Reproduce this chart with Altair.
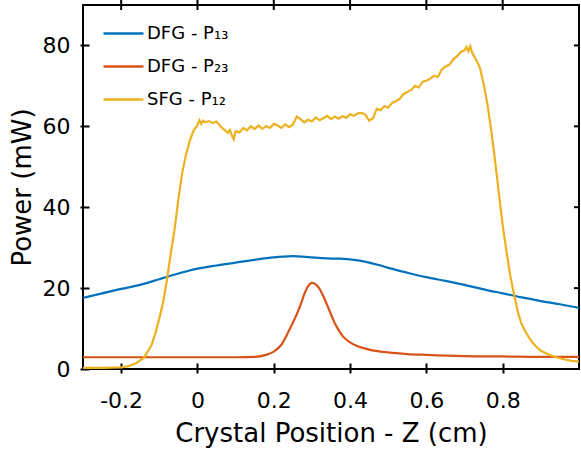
import altair as alt
import pandas as pd

# ---- data ----
dfg13_x = [-0.30, -0.25, -0.20, -0.15, -0.10, -0.05, 0.00, 0.05, 0.10, 0.15, 0.20, 0.225, 0.25,
           0.275, 0.30, 0.325, 0.35, 0.375, 0.40, 0.425, 0.45, 0.475, 0.50, 0.55, 0.60, 0.65,
           0.70, 0.75, 0.80, 0.85, 0.90, 0.95, 1.00]
dfg13_y = [17.6, 18.7, 19.8, 20.8, 22.2, 23.6, 24.8, 25.6, 26.3, 27.0, 27.6, 27.8, 27.9,
           27.8, 27.6, 27.4, 27.3, 27.3, 27.1, 26.8, 26.3, 25.7, 25.0, 23.8, 22.7, 21.8,
           20.8, 19.7, 18.7, 17.7, 16.8, 16.0, 15.1]

dfg23_x = [-0.30, -0.20, -0.10, 0.00, 0.10, 0.15, 0.18, 0.20, 0.22, 0.24, 0.26, 0.27, 0.28,
           0.29, 0.30, 0.31, 0.32, 0.33, 0.34, 0.35, 0.36, 0.37, 0.38, 0.40, 0.42, 0.45,
           0.50, 0.55, 0.60, 0.70, 0.80, 0.90, 1.00]
dfg23_y = [2.9, 2.9, 2.9, 2.9, 2.9, 3.0, 3.5, 4.3, 6.0, 9.5, 13.5, 15.8, 18.5,
           20.5, 21.3, 20.9, 19.8, 18.0, 15.8, 13.5, 11.3, 9.6, 8.2, 6.6, 5.6, 4.8,
           4.1, 3.7, 3.5, 3.2, 3.1, 3.0, 3.0]

sfg12_x = [-0.30, -0.25, -0.20, -0.18, -0.16, -0.14, -0.12, -0.11, -0.10, -0.09, -0.08,
           -0.07, -0.06, -0.05, -0.04, -0.03, -0.02, -0.01, 0.00, 0.005, 0.01, 0.015,
           0.02, 0.03, 0.04, 0.05, 0.06, 0.07, 0.08, 0.085, 0.09, 0.095, 0.10, 0.11,
           0.12, 0.13, 0.14, 0.15, 0.16, 0.17, 0.18, 0.19, 0.20, 0.21, 0.22, 0.23, 0.24,
           0.25, 0.26, 0.27, 0.28, 0.29, 0.30, 0.31, 0.32, 0.33, 0.34, 0.35, 0.36, 0.37,
           0.38, 0.39, 0.40, 0.41, 0.42, 0.43, 0.44, 0.45, 0.46, 0.47, 0.48, 0.49, 0.50,
           0.51, 0.52, 0.53, 0.54, 0.55, 0.56, 0.57, 0.58, 0.59, 0.60, 0.61, 0.62, 0.63,
           0.64, 0.65, 0.66, 0.67, 0.68, 0.69, 0.70, 0.705, 0.71, 0.715, 0.72, 0.73, 0.74,
           0.75, 0.76, 0.77, 0.78, 0.79, 0.80, 0.81, 0.82, 0.83, 0.84, 0.85, 0.86, 0.87,
           0.88, 0.89, 0.90, 0.92, 0.94, 0.96, 0.98, 1.00]
sfg12_y = [0.3, 0.3, 0.4, 0.7, 1.5, 2.8, 6.0, 9.0, 12.5, 16.5, 22.0,
           28.5, 34.5, 42.0, 48.5, 53.0, 56.5, 59.0, 60.3, 61.5, 60.6, 61.4,
           61.0, 61.3, 60.8, 61.2, 60.0, 59.2, 58.4, 59.1, 57.8, 56.8, 58.8, 58.5,
           59.6, 59.0, 60.0, 59.3, 60.2, 59.4, 60.1, 59.6, 60.6, 60.2, 59.6, 60.5, 59.8,
           60.4, 62.4, 61.8, 61.0, 61.6, 61.2, 62.2, 61.5, 62.0, 62.6, 61.8, 62.4, 61.9,
           62.5, 62.1, 63.0, 62.6, 63.2, 63.3, 62.9, 61.4, 62.0, 64.3, 64.0, 65.0, 64.6,
           65.8, 66.2, 66.8, 68.0, 68.5, 69.0, 70.0, 69.6, 71.0, 71.3, 71.8, 72.5, 72.2,
           74.0, 74.8, 75.2, 76.5, 77.3, 78.4, 78.8, 79.6, 78.6, 79.8, 78.2, 76.5, 74.6,
           70.5, 65.5, 59.0, 51.5, 43.5, 35.5, 29.0, 23.0, 18.3, 14.0, 11.0, 9.2, 7.6,
           6.3, 5.3, 4.5, 3.6, 2.9, 2.4, 2.0, 1.8]

series_names = ["DFG - P\u2081\u2083", "DFG - P\u2082\u2083", "SFG - P\u2081\u2082"]
series_colors = ["#0072BD", "#D95319", "#EDB120"]
x_ticks = [-0.2, 0, 0.2, 0.4, 0.6, 0.8]
y_ticks = [0, 20, 40, 60, 80]

def make_df(name, xs, ys):
    return pd.DataFrame({"series": name, "z": xs, "p": ys, "order": range(len(xs))})

df_smooth = pd.concat([make_df(series_names[0], dfg13_x, dfg13_y),
                       make_df(series_names[1], dfg23_x, dfg23_y)], ignore_index=True)
df_sfg = make_df(series_names[2], sfg12_x, sfg12_y)
df_xt = pd.DataFrame({"z": x_ticks})
df_yt = pd.DataFrame({"p": y_ticks})

FONT = "DejaVu Sans"
W, H = 496, 364
xscale = alt.Scale(domain=[-0.3, 1.0], nice=False, zero=False)
yscale = alt.Scale(domain=[0, 90], nice=False, zero=False)
label_expr = "datum.value == 0 ? '0' : replace(format(datum.value, '.1f'), '\u2212', '-')"

x_main = alt.X("z:Q", scale=xscale,
               axis=alt.Axis(orient="bottom", values=x_ticks, labelExpr=label_expr,
                             offset=-6, tickSize=10, tickWidth=2, tickColor="black",
                             domain=False, grid=False, labelFont=FONT, labelFontSize=22,
                             labelColor="black", labelPadding=17,
                             title="Crystal Position - Z (cm)", titleFont=FONT,
                             titleFontSize=26, titleFontWeight="normal", titleColor="black",
                             titleBaseline="alphabetic", titleY=78))
y_main = alt.Y("p:Q", scale=yscale,
               axis=alt.Axis(orient="left", values=y_ticks, offset=-6, tickSize=9,
                             tickWidth=2, tickColor="black", domain=False, grid=False,
                             labelFont=FONT, labelFontSize=22, labelColor="black",
                             labelPadding=10, title="Power (mW)", titleFont=FONT,
                             titleFontSize=26, titleFontWeight="normal", titleColor="black",
                             titleBaseline="alphabetic", titleX=-59))
color_enc = alt.Color("series:N", scale=alt.Scale(domain=series_names, range=series_colors),
                      sort=series_names,
                      legend=alt.Legend(orient="none", legendX=29, legendY=17, title=None,
                                        symbolType="M-2,0H2", symbolSize=400,
                                        symbolStrokeWidth=2.5, labelFont=FONT,
                                        labelFontSize=18, labelColor="black",
                                        labelOffset=12, rowPadding=12, padding=0))

smooth = alt.Chart(df_smooth).mark_line(strokeWidth=2.2, clip=True, interpolate="monotone").encode(
    x=x_main, y=y_main, color=color_enc, order="order:Q",
)

sfg = alt.Chart(df_sfg).mark_line(strokeWidth=2.2, clip=True).encode(
    x=alt.X("z:Q", scale=xscale), y=alt.Y("p:Q", scale=yscale),
    color=color_enc, order="order:Q",
)

# mirrored tick marks on the top and right edges of the box
top_ticks = alt.Chart(df_xt).mark_rule(color="black", strokeWidth=2).encode(
    x=alt.X("z:Q", scale=xscale),
    y=alt.value(-5), y2=alt.value(5),
)
right_ticks = alt.Chart(df_yt).mark_rule(color="black", strokeWidth=2).encode(
    y=alt.Y("p:Q", scale=yscale),
    x=alt.value(W - 5), x2=alt.value(W),
)

chart = alt.layer(smooth, sfg, top_ticks, right_ticks).properties(
    width=W, height=H,
    autosize=alt.AutoSizeParams(type="none"),
    padding={"left": 83, "top": 5, "right": 2, "bottom": 84},
    background="white",
).configure_view(stroke="black", strokeWidth=2)

chart.save("out.html", embed_options={"renderer": "svg", "actions": False})
